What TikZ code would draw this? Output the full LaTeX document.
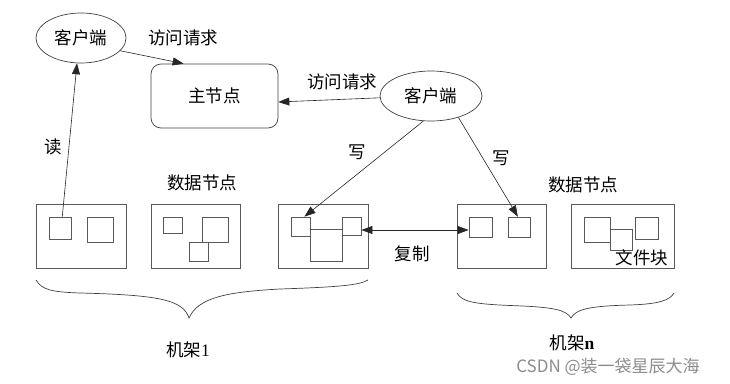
\documentclass[tikz,border=0pt]{standalone}
\usepackage{fontspec}
\setmainfont{Liberation Serif}
\newfontfamily\cjk{Noto Sans CJK SC}
\usetikzlibrary{arrows.meta,calc,shapes.geometric}
\begin{document}
\begin{tikzpicture}[x=1pt,y=-1pt,
  lbl/.style={font=\cjk\fontsize{17.5}{19}\selectfont, inner sep=0pt},
  rack/.style={font=\fontsize{17.5}{19}\selectfont, inner sep=0pt},
  dnbox/.style={draw=black!65, line width=0.8pt, inner sep=0pt},
  blk/.style={draw=black!65, line width=0.8pt, inner sep=0pt},
  client/.style={ellipse, draw=black!75, line width=0.7pt, inner sep=0pt, font=\cjk\fontsize{17.5}{19}\selectfont},
  master/.style={draw=black!75, line width=0.7pt, rounded corners=10pt, inner sep=0pt, font=\cjk\fontsize{17.5}{19}\selectfont},
  arr/.style={-{Triangle[length=11pt,width=8pt]}, line width=0.6pt, draw=black!85},
  dblarr/.style={{Triangle[length=11pt,width=8pt]}-{Triangle[length=11pt,width=8pt]}, line width=0.6pt, draw=black!85},
  brace/.style={draw=black!75, line width=0.7pt}
]
\useasboundingbox (0,0) rectangle (730,383);

% clients and master
\node[client, minimum width=90pt, minimum height=50pt] (c1) at (81,38) {客户端};
\node[client, minimum width=102pt, minimum height=50pt] (c2) at (431,96) {客户端};
\node[master, minimum width=127pt, minimum height=64pt] (main) at (214.5,96) {主节点};

% data nodes
\node[dnbox, minimum width=90pt, minimum height=64pt] (dn1) at (81,236) {};
\node[dnbox, minimum width=89pt, minimum height=64pt] (dn2) at (195.5,236) {};
\node[dnbox, minimum width=90pt, minimum height=64pt] (dn3) at (323,236) {};
\node[dnbox, minimum width=89pt, minimum height=64pt] (dn4) at (501.5,236) {};
\node[dnbox, minimum width=103pt, minimum height=64pt] (dn5) at (622.5,236) {};

% blocks
\node[blk, minimum width=22pt, minimum height=22pt] (b11) at (60,228) {};
\node[blk, minimum width=26pt, minimum height=25pt] (b12) at (100,229.5) {};
\node[blk, minimum width=19pt, minimum height=16pt] (b21) at (172.5,225) {};
\node[blk, minimum width=26pt, minimum height=25pt] (b22) at (215,229.5) {};
\node[blk, minimum width=19pt, minimum height=19pt] (b23) at (198.5,251.5) {};
\node[blk, minimum width=19pt, minimum height=19pt] (b31) at (300.5,226.5) {};
\node[blk, minimum width=32pt, minimum height=32pt] (b33) at (326,245) {};
\node[blk, minimum width=19pt, minimum height=18pt] (b32) at (351.5,226) {};
\node[blk, minimum width=23pt, minimum height=20pt] (b41) at (480.5,227) {};
\node[blk, minimum width=22pt, minimum height=20pt] (b42) at (519,227) {};
\node[blk, minimum width=26pt, minimum height=25pt] (b51) at (597,229.5) {};
\node[blk, minimum width=22pt, minimum height=21pt] (b52) at (621,239.5) {};
\node[blk, minimum width=23pt, minimum height=22pt] (b53) at (646.5,228) {};

% labels
\node[lbl] (l1) at (183,38) {访问请求};
\node[lbl] (l2) at (342,82) {访问请求};
\node[lbl] (lr) at (53,147) {读};
\node[lbl] (lw1) at (357,152) {写};
\node[lbl] (lw2) at (501,158) {写};
\node[lbl] (ld1) at (202,183) {数据节点};
\node[lbl] (ld2) at (583,185) {数据节点};
\node[lbl] (lc) at (412,254) {复制};
\node[lbl] (lf) at (642,258) {文件块};
\node[rack] (r1) at (188,350) {{\cjk 机架}1};
\node[rack] (rn) at (572,343) {{\cjk 机架}\textbf{n}};
\node[font=\cjk\fontsize{17}{19}\selectfont, text=black!45, inner sep=0pt] (wm) at (608,367) {CSDN @装一袋星辰大海};

% connectors
\coordinate (mtop) at ($(main.north west)+(33,0)$);
\draw[arr] (c1.-18) -- (mtop);
\coordinate (rd) at ($(b11.north west)!0.6!(b11.north east)$);
\draw[arr] (rd) -- (c1.-99);
\coordinate (mr) at ($(main.east)+(0,6)$);
\draw[arr] (c2.182) -- (mr);
\coordinate (w1) at ($(b31.north west)!0.7!(b31.north east)$);
\draw[arr] (c2.-107) -- (w1);
\coordinate (w2) at ($(b42.north west)!0.45!(b42.north east)$);
\draw[arr] (c2.-38) -- (w2);
\coordinate (cp) at ($(b32.east)+(0,4)$);
\draw[dblarr] (cp) -- (cp -| b41.west);

% braces
\draw[brace] (36,280) .. controls (42,290) and (52,292) .. (80,293)
  .. controls (160,295) and (183,300) .. (189,318)
  .. controls (198,298) and (225,292) .. (280,289)
  .. controls (340,287) and (360,285) .. (368,280);
\draw[brace] (457,293) .. controls (462,302) and (475,304) .. (510,305.5)
  .. controls (555,307) and (566,310) .. (571,318)
  .. controls (576,309) and (590,306) .. (630,305)
  .. controls (660,304) and (670,300) .. (674,293);
\end{tikzpicture}
\end{document}
